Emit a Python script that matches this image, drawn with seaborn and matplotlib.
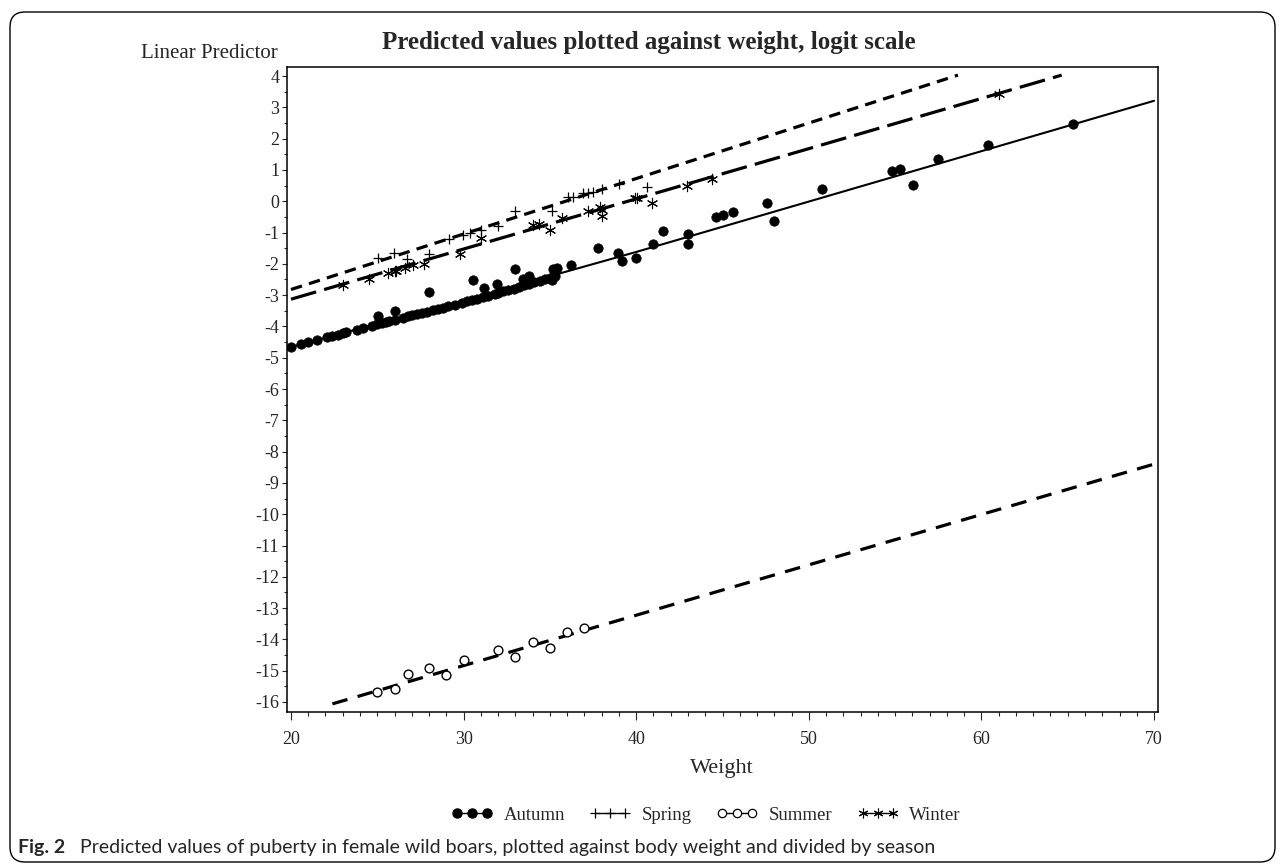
import matplotlib

matplotlib.use("Agg")

import matplotlib.pyplot as plt
import pandas as pd
import seaborn as sns
from matplotlib.lines import Line2D
from matplotlib.patches import FancyBboxPatch
from matplotlib.ticker import MultipleLocator

autumn_weight = [
    20.0, 20.6, 21.0, 21.5, 22.1, 22.4, 22.7, 23.0, 23.2, 23.8, 24.2, 24.7,
    25.0, 25.3, 25.5, 25.7, 26.0, 26.5, 26.8, 27.0, 27.3, 27.6, 27.9, 28.2,
    28.5, 28.8, 29.1, 29.5, 29.9, 30.2, 30.5, 30.8, 31.1, 31.4, 31.8, 32.0,
    32.3, 32.6, 32.9, 33.2, 33.5, 33.8, 34.1, 34.4, 34.7, 35.0, 35.3,
    25.06, 26.0, 28.01, 30.53, 31.2, 31.92, 32.98, 33.42, 33.81, 35.1, 35.2,
    35.4, 36.2, 37.8, 38.96, 39.2, 39.99, 40.99, 41.53, 42.98, 42.98, 44.62,
    45.0, 45.58, 47.6, 47.99, 50.78, 54.84, 55.28, 56.02, 57.5, 60.4, 65.29,
]
autumn_pred = [
    -4.66, -4.57, -4.51, -4.44, -4.35, -4.31, -4.26, -4.22, -4.19, -4.10, -4.05, -3.97,
    -3.93, -3.89, -3.86, -3.83, -3.80, -3.72, -3.68, -3.65, -3.61, -3.57, -3.53, -3.48,
    -3.44, -3.40, -3.36, -3.30, -3.24, -3.20, -3.16, -3.11, -3.06, -3.02, -2.96, -2.93,
    -2.88, -2.84, -2.79, -2.74, -2.69, -2.64, -2.59, -2.55, -2.50, -2.45, -2.40,
    -3.66, -3.50, -2.89, -2.52, -2.77, -2.65, -2.17, -2.47, -2.40, -2.52, -2.18,
    -2.14, -2.03, -1.48, -1.64, -1.92, -1.80, -1.35, -0.95, -1.06, -1.37, -0.50,
    -0.43, -0.35, -0.07, -0.64, 0.39, 0.98, 1.04, 0.51, 1.36, 1.79, 2.48,
]
spring_weight = [
    25.02, 25.99, 26.7, 28.01, 29.17, 29.98, 30.35, 31.0, 32.0, 32.98, 35.15,
    36.06, 36.36, 36.94, 37.2, 37.51, 38.0, 39.03, 40.6,
]
spring_pred = [
    -1.81, -1.65, -1.86, -1.67, -1.22, -1.09, -1.03, -0.93, -0.78, -0.31, -0.31,
    0.14, 0.14, 0.27, 0.27, 0.30, 0.40, 0.56, 0.46,
]
summer_weight = [25.0, 26.0, 26.8, 28.0, 29.0, 30.0, 32.0, 33.0, 34.0, 35.0, 36.0, 37.0]
summer_pred = [-15.67, -15.57, -15.10, -14.93, -15.13, -14.65, -14.35, -14.55,
               -14.07, -14.28, -13.77, -13.62]
winter_weight = [
    23.03, 24.54, 25.64, 26.0, 26.1, 26.6, 27.05, 27.7, 29.79, 31.0, 34.04, 34.39,
    35.0, 35.68, 37.22, 37.9, 38.0, 38.0, 39.93, 40.06, 40.9, 42.96, 44.37, 60.99,
]
winter_pred = [
    -2.68, -2.47, -2.28, -2.24, -2.22, -2.12, -2.05, -1.99, -1.67, -1.19, -0.77, -0.74,
    -0.93, -0.52, -0.31, -0.18, -0.48, -0.28, 0.09, 0.10, -0.07, 0.49, 0.72, 3.44,
]

# fitted lines
autumn_line_weight = [20, 30, 40, 70]
autumn_line_pred = [-4.66, -3.17, -1.62, 3.21]
spring_line_weight = [20, 58.64]
spring_line_pred = [-2.82, 4.03]
summer_line_weight = [22.4, 70]
summer_line_pred = [-16.06, -8.40]
winter_line_weight = [20, 64.65]
winter_line_pred = [-3.13, 4.03]

seasons = ["Autumn", "Spring", "Summer", "Winter"]
points = {
    "Autumn": (autumn_weight, autumn_pred),
    "Spring": (spring_weight, spring_pred),
    "Summer": (summer_weight, summer_pred),
    "Winter": (winter_weight, winter_pred),
}
lines = {
    "Autumn": (autumn_line_weight, autumn_line_pred),
    "Spring": (spring_line_weight, spring_line_pred),
    "Summer": (summer_line_weight, summer_line_pred),
    "Winter": (winter_line_weight, winter_line_pred),
}

line_styles = {
    "Autumn": dict(linestyle="-", linewidth=1.5),
    "Spring": dict(linestyle=(0, (3.6, 2.3)), linewidth=2.3),
    "Summer": dict(linestyle=(0, (4.9, 3.3)), linewidth=2.3),
    "Winter": dict(linestyle=(0, (8.2, 2.6)), linewidth=2.3),
}
marker_styles = {
    "Autumn": dict(marker="o", s=46, color="black", edgecolor="black", linewidth=0.5),
    "Spring": dict(marker="+", s=60, color="black", linewidth=0.9),
    "Summer": dict(marker="o", s=40, facecolor="white", edgecolor="black", linewidth=1.0),
    "Winter": dict(marker=(6, 2, 0), s=55, color="black", linewidth=0.8),
}

sns.set_style("ticks")
plt.rcParams["font.family"] = ["Liberation Serif", "DejaVu Serif"]
plt.rcParams["axes.unicode_minus"] = False

fig = plt.figure(figsize=(12.85, 8.66), dpi=100)
ax = fig.add_axes([287 / 1285, 1 - 712 / 866, 871 / 1285, 645 / 866])

for season in seasons:
    lw, lp = lines[season]
    line_df = pd.DataFrame({"Weight": lw, "Pred": lp})
    sns.lineplot(data=line_df, x="Weight", y="Pred", color="black", ax=ax,
                 **line_styles[season])

for season in seasons:
    pw, pp = points[season]
    point_df = pd.DataFrame({"Weight": pw, "Pred": pp})
    sns.scatterplot(data=point_df, x="Weight", y="Pred", ax=ax, zorder=3,
                    **marker_styles[season])

ax.set_xlim(19.77, 70.23)
ax.set_ylim(-16.32, 4.29)
ax.xaxis.set_major_locator(MultipleLocator(10))
ax.xaxis.set_minor_locator(MultipleLocator(1))
ax.yaxis.set_major_locator(MultipleLocator(1))
ax.yaxis.set_minor_locator(MultipleLocator(0.5))
ax.tick_params(axis="x", which="major", length=6, width=0.8, pad=8, labelsize=13)
ax.tick_params(axis="x", which="minor", length=3, width=0.8)
ax.tick_params(axis="y", which="major", length=3.5, width=0.8, pad=2, labelsize=13)
ax.tick_params(axis="y", which="minor", length=2, width=0.8)
for spine in ax.spines.values():
    spine.set_visible(True)
    spine.set_linewidth(1.1)
    spine.set_color("black")
ax.set_xlabel("")
ax.set_ylabel("")

fig.text(0.505, 1 - 42 / 866, "Predicted values plotted against weight, logit scale",
         ha="center", va="center", fontsize=18, fontweight="bold")
fig.text(278 / 1285, 1 - 53 / 866, "Linear Predictor", ha="right", va="center", fontsize=15)
fig.text(722 / 1285, 1 - 769 / 866, "Weight", ha="center", va="center", fontsize=16)

handles = [
    Line2D([], [], color="black", lw=1.0, marker="o", markersize=6.5),
    Line2D([], [], color="black", lw=1.0, marker="+", markersize=7, markeredgewidth=0.9),
    Line2D([], [], color="black", lw=1.0, marker="o", markersize=6,
           markerfacecolor="white", markeredgewidth=0.9),
    Line2D([], [], color="black", lw=1.0, marker=(6, 2, 0), markersize=7,
           markeredgewidth=0.8),
]
fig.legend(handles, seasons, loc="center", bbox_to_anchor=(706 / 1285, 1 - 815 / 866),
           ncol=4, frameon=False, numpoints=3, handlelength=2.2, handletextpad=0.6,
           columnspacing=1.3, fontsize=13.5)

caption_font = ["Lato", "DejaVu Sans"]
fig.text(18 / 1285, 1 - 847 / 866, "Fig. 2", ha="left", va="center", fontsize=14,
         fontweight="bold", family=caption_font)
fig.text(80 / 1285, 1 - 847 / 866,
         "Predicted values of puberty in female wild boars, plotted against body weight "
         "and divided by season",
         ha="left", va="center", fontsize=14, family=caption_font)

border = FancyBboxPatch((0.10, 0.04), 12.65, 8.50, boxstyle="round,pad=0,rounding_size=0.15",
                        transform=fig.dpi_scale_trans, fill=False, edgecolor="black",
                        linewidth=1.0)
fig.patches.append(border)

fig.savefig("out.png", dpi=100)
plt.close(fig)
